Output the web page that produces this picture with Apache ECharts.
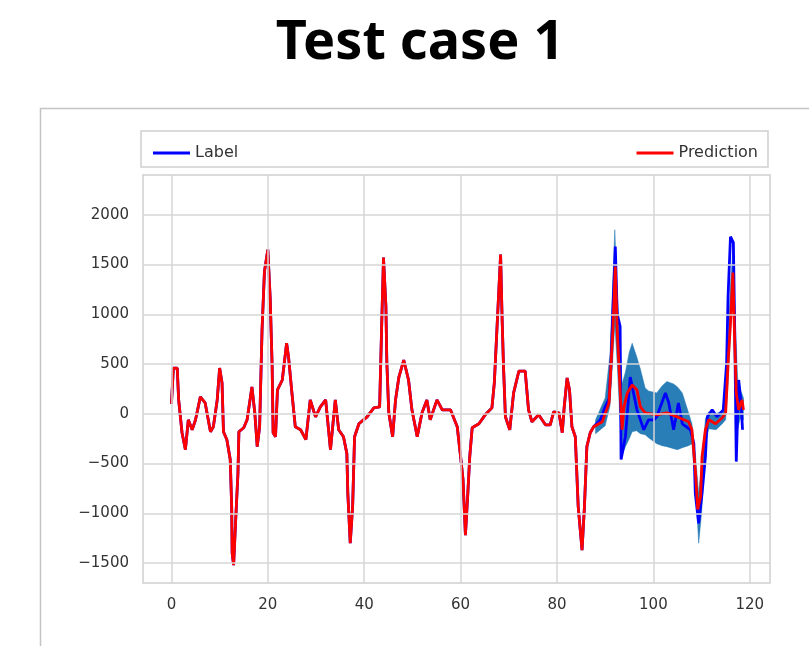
<!DOCTYPE html>
<html><head><meta charset="utf-8">
<script src="https://cdn.jsdelivr.net/npm/echarts@6/dist/echarts.min.js"></script>
<style>html,body{margin:0;padding:0;background:#fff}#c{width:809px;height:646px}</style>
</head><body><div id="c"></div>
<script>
// shared history (label == prediction)
const histX = [0,0.4,1.2,1.5,2.2,2.9,3.5,4.3,5,6,7,8.1,8.7,9.5,10,10.5,10.8,11.5,12.2,12.5,12.6,12.9,13.3,13.8,14,15,15.7,16.4,16.7,17.3,17.8,18.3,18.8,19.3,20,20.5,20.9,21.1,21.6,22,23,23.9,24.3,25,25.7,26.8,27.9,28.8,29.9,30.9,32,33,34,34.7,35.7,36.4,36.6,37.1,37.6,38,38.9,40.6,42,43.2,43.6,44,44.5,44.7,45.1,45.9,46.5,47.2,48.2,49.2,49.9,51,52,53,53.7,55.1,56.2,57.9,59.3,60,60.5,61,61.5,61.9,62.4,63.8,65.1,66.5,67,67.6,68.3,68.6,68.9,69.3,70.2,71,72.1,73.4,74.1,74.8,76.2,77.6,78.6,79.3,80.4,81.1,81.5,82.1,82.6,83.1,83.8,84.4,85.2,85.7,86.2,86.9,87.6,88];
const histY = [100,460,460,140,-190,-360,-60,-160,-60,170,110,-180,-130,140,460,310,-180,-260,-460,-930,-1400,-1520,-1100,-600,-180,-140,-60,170,270,10,-330,-130,840,1430,1650,1150,470,-190,-230,240,340,710,570,210,-130,-160,-260,140,-30,70,140,-360,140,-160,-230,-400,-800,-1300,-930,-230,-100,-30,60,70,840,1570,1080,510,10,-230,140,370,540,340,40,-230,10,140,-60,140,40,40,-130,-430,-660,-1220,-800,-430,-140,-100,-10,60,310,910,1600,980,480,-30,-160,210,430,430,40,-80,-10,-110,-110,20,10,-190,70,360,240,-130,-230,-930,-1370,-930,-330,-190,-130,-130];
// test part: label
const labelX = [88,89,90,90.8,91.2,91.6,92.1,92.5,93.1,93.3,94.2,95.2,96.6,98,99,100.1,100.7,102.5,103.2,104.2,105.2,106,107.7,108.4,108.7,109.4,110.1,110.8,111.2,112.2,113.2,114.5,115.2,115.5,116,116.6,116.9,117.2,117.7,118.2,118.5];
const labelY = [-130,-60,70,150,500,1045,1680,1000,880,-460,-230,370,40,-160,-60,-60,-30,210,110,-160,110,-100,-160,-300,-800,-1100,-800,-430,-30,40,-30,40,510,1180,1780,1720,780,-480,340,110,-160];
// test part: prediction
const predX = [88,89.4,90.8,91.1,91.6,92.1,92.5,93,93.5,93.9,94.6,95.6,96.6,97.3,98.3,100.7,102.8,104.9,107.3,108,108.7,109.2,109.8,110.1,110.8,111.5,112.9,114.3,115,115.5,116,116.5,116.9,117.2,117.7,118.4,118.7];
const predY = [-130,-80,110,390,840,1480,840,340,-160,70,210,290,240,70,10,-10,10,-30,-80,-160,-560,-960,-830,-430,-160,-60,-100,-40,10,510,910,1420,680,210,40,140,40];
// uncertainty band
const bandX = [88,90,91,92,92.5,93,93.5,94.2,95,95.6,96.5,97.3,98.3,99,100.7,101.8,102.8,104.2,105,106,107.3,108,108.7,109.4,110,110.8,111.5,113,114.3,115,115.5,116,116.5,117,117.5,118,118.7];
const bandLow = [-200,-120,80,900,500,0,-420,-330,-250,-180,-170,-200,-210,-240,-300,-320,-330,-350,-360,-340,-320,-300,-700,-1300,-1000,-300,-150,-160,-100,-60,300,800,1200,300,-150,-50,-60];
const bandHigh = [-60,160,600,1850,1200,800,300,420,620,710,580,450,260,230,210,280,325,300,270,210,10,-100,-400,-800,-500,-50,20,0,30,100,700,1300,1650,900,350,250,160];
const xTicks = [0,20,40,60,80,100,120];
const yTicks = [-1500,-1000,-500,0,500,1000,1500,2000];

const pair = (xs, ys) => xs.map((x, i) => [x, ys[i]]);
const labelData = pair(histX, histY).concat(pair(labelX, labelY).slice(1));
const predData = pair(histX, histY).concat(pair(predX, predY).slice(1));
const bandData = bandX.map((x, i) => [x, bandLow[i], bandHigh[i]]);
const fmt = v => (v < 0 ? '\u2212' + Math.abs(v) : String(v));

const chart = echarts.init(document.getElementById('c'), null, {renderer: 'canvas'});
chart.setOption({
  animation: false,
  backgroundColor: '#fff',
  graphic: [
    {type: 'rect', shape: {x: 40.5, y: 108.5, width: 800, height: 600}, style: {fill: 'none', stroke: '#c4c4c4', lineWidth: 1.5}, z: -10},
    {type: 'rect', shape: {x: 141, y: 131, width: 627, height: 36}, style: {fill: '#fff', stroke: '#d0d0d0', lineWidth: 1.5}, z: 0},
    {type: 'text', x: 420, y: 44, style: {text: 'Test case 1', fontFamily: 'Noto Sans', fontWeight: 'bold', fontSize: 54, fill: '#000', textAlign: 'center', textVerticalAlign: 'middle'}}
  ],
  legend: [
    {data: ['Label'], left: 148, top: 140, icon: 'rect', itemWidth: 37, itemHeight: 3, itemGap: 10, textStyle: {fontFamily: 'DejaVu Sans', fontSize: 16, color: '#333'}, z: 5},
    {data: ['Prediction'], right: 46, top: 140, icon: 'rect', itemWidth: 37, itemHeight: 3, itemGap: 10, textStyle: {fontFamily: 'DejaVu Sans', fontSize: 16, color: '#333'}, z: 5}
  ],
  grid: {left: 143, right: 39, top: 175, bottom: 63, show: true, borderColor: '#cfcfcf', borderWidth: 1.5, backgroundColor: 'transparent'},
  xAxis: {
    type: 'value', min: -5.9, max: 124.2,
    axisLine: {show: false}, axisTick: {show: false}, splitLine: {show: false},
    axisLabel: {customValues: xTicks, formatter: fmt, margin: 15, fontFamily: 'DejaVu Sans', fontSize: 15, color: '#333'}
  },
  yAxis: {
    type: 'value', min: -1700, max: 2400,
    axisLine: {show: false}, axisTick: {show: false}, splitLine: {show: false},
    axisLabel: {customValues: yTicks, formatter: fmt, margin: 14, fontFamily: 'DejaVu Sans', fontSize: 15, color: '#333'}
  },
  series: [
    {
      name: 'grid', type: 'line', data: [], z: 1, silent: true,
      markLine: {
        silent: true, symbol: 'none', animation: false,
        label: {show: false},
        lineStyle: {color: '#d6d6d6', width: 1.5, type: 'solid'},
        data: xTicks.map(v => ({xAxis: v})).concat(yTicks.map(v => ({yAxis: v})))
      }
    },
    {
      name: 'band', type: 'custom', z: 2, silent: true,
      data: bandData,
      encode: {x: 0, y: [1, 2]},
      renderItem: function (params, api) {
        if (params.dataIndex !== 0) return null;
        const up = bandX.map((x, i) => api.coord([x, bandHigh[i]]));
        const lo = bandX.map((x, i) => api.coord([x, bandLow[i]])).reverse();
        return {type: 'polygon', shape: {points: up.concat(lo)}, style: {fill: '#1f77b4', stroke: '#1f77b4', lineWidth: 0.5, opacity: 0.95}};
      }
    },
    {name: 'Label', type: 'line', data: labelData, z: 3, symbol: 'none', color: '#0000ff', lineStyle: {width: 2.8, color: '#0000ff'}},
    {name: 'Prediction', type: 'line', data: predData, z: 4, symbol: 'none', color: '#ff0000', lineStyle: {width: 2.8, color: '#ff0000'}}
  ]
});
</script>
</body></html>
